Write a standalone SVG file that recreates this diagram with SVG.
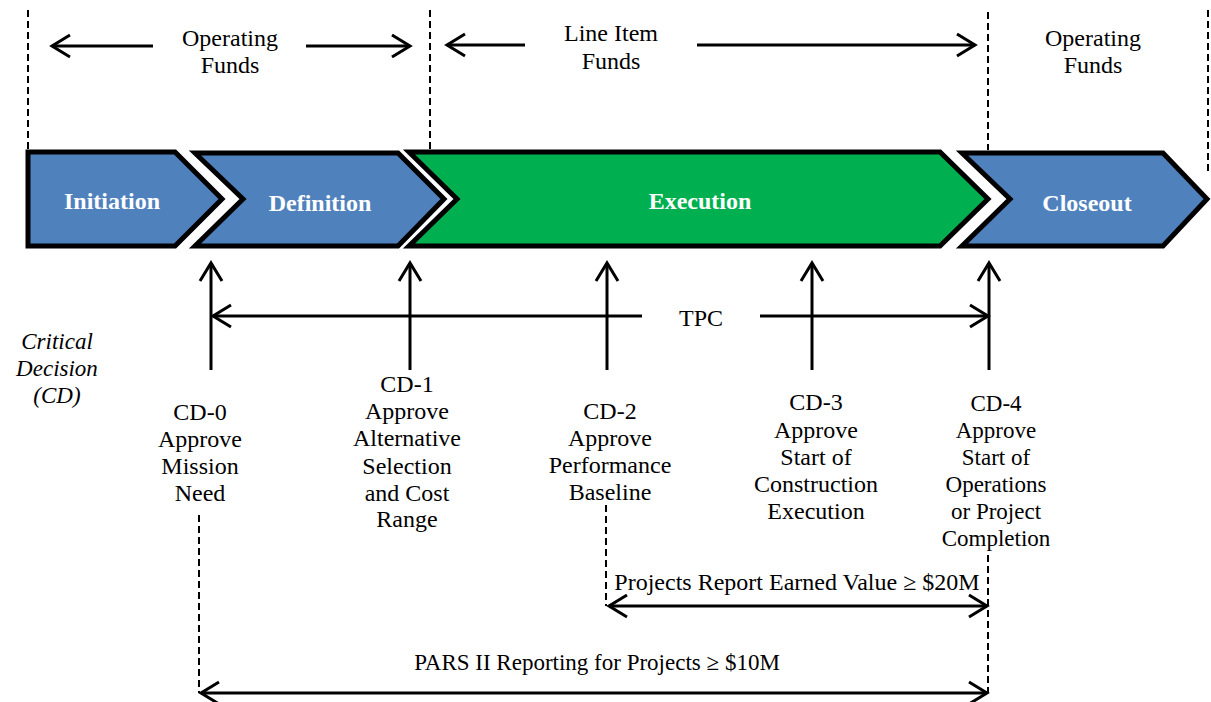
<svg xmlns="http://www.w3.org/2000/svg" width="1211" height="702" viewBox="0 0 1211 702">
<style>
.t{font-family:'Liberation Serif','Times New Roman',serif;font-size:24px;fill:#000;text-anchor:middle}
.s23{font-size:23px}
.it{font-style:italic;font-size:23px}
.ph{font-family:'Liberation Serif','Times New Roman',serif;font-size:24px;font-weight:bold;fill:#fff;text-anchor:middle}
.chev{stroke:#000;stroke-width:5;stroke-linejoin:miter}
.blue{fill:#4F81BD}
.green{fill:#00B050}
.dash{stroke:#000;stroke-width:2;stroke-dasharray:7,4;fill:none}
.ar{stroke:#000;stroke-width:3;fill:none}
</style>
<defs>
<marker id="ah" markerUnits="userSpaceOnUse" markerWidth="24" markerHeight="24" refX="20" refY="12" orient="auto-start-reverse" overflow="visible">
<path d="M2,1 L20,12 L2,23" fill="none" stroke="#000" stroke-width="3"/>
</marker>
</defs>
<rect width="1211" height="702" fill="#fff"/>
<g id="phase-initiation">
<path class="chev blue" d="M28,152 L175,152 L222,199 L175,246 L28,246 Z"/>
<text class="ph" x="112" y="209">Initiation</text>
</g>
<g id="phase-definition">
<path class="chev blue" d="M195,153 L398,153 L444,199 L398,246 L195,246 L243,199 Z"/>
<text class="ph" x="320" y="211">Definition</text>
</g>
<g id="phase-execution">
<path class="chev green" d="M409,152 L940,152 L988,199 L940,246 L409,246 L457,199 Z"/>
<text class="ph" x="700" y="209">Execution</text>
</g>
<g id="phase-closeout">
<path class="chev blue" d="M962,153 L1163,153 L1207,199 L1163,246 L962,246 L1010,199 Z"/>
<text class="ph" x="1087" y="211">Closeout</text>
</g>
<g id="funds-labels">
<text class="t" x="230" y="46">Operating</text>
<text class="t" x="230" y="73">Funds</text>
<text class="t" x="611" y="41">Line Item</text>
<text class="t" x="611" y="69">Funds</text>
<text class="t" x="1093" y="46">Operating</text>
<text class="t" x="1093" y="73">Funds</text>
</g>
<g id="critical-decision">
<text class="t it" x="57" y="349">Critical</text>
<text class="t it" x="57" y="376">Decision</text>
<text class="t it" x="57" y="403">(CD)</text>
</g>
<g id="cd0">
<text class="t" x="200" y="420">CD-0</text>
<text class="t" x="200" y="447">Approve</text>
<text class="t" x="200" y="474">Mission</text>
<text class="t" x="200" y="501">Need</text>
</g>
<g id="cd1">
<text class="t" x="407" y="392">CD-1</text>
<text class="t" x="407" y="419">Approve</text>
<text class="t" x="407" y="446">Alternative</text>
<text class="t" x="407" y="474">Selection</text>
<text class="t" x="407" y="501">and Cost</text>
<text class="t" x="407" y="527">Range</text>
</g>
<g id="cd2">
<text class="t" x="610" y="419">CD-2</text>
<text class="t" x="610" y="446">Approve</text>
<text class="t" x="610" y="473">Performance</text>
<text class="t" x="610" y="500">Baseline</text>
</g>
<g id="cd3">
<text class="t" x="816" y="410">CD-3</text>
<text class="t" x="816" y="438">Approve</text>
<text class="t" x="816" y="465">Start of</text>
<text class="t" x="816" y="492">Construction</text>
<text class="t" x="816" y="519">Execution</text>
</g>
<g id="cd4">
<text class="t s23" x="996" y="411">CD-4</text>
<text class="t s23" x="996" y="438">Approve</text>
<text class="t s23" x="996" y="465">Start of</text>
<text class="t s23" x="996" y="492">Operations</text>
<text class="t s23" x="996" y="519">or Project</text>
<text class="t s23" x="996" y="546">Completion</text>
</g>
<g id="range-labels">
<text class="t" x="701" y="326">TPC</text>
<text class="t" x="797" y="590">Projects Report Earned Value ≥ $20M</text>
<text class="t s23" x="597" y="670">PARS II Reporting for Projects ≥ $10M</text>
</g>
<g id="connectors">
<line class="dash" x1="28" y1="10" x2="28" y2="150"/>
<line class="dash" x1="430" y1="10" x2="430" y2="150"/>
<line class="dash" x1="988" y1="12" x2="988" y2="150"/>
<line class="dash" x1="1208" y1="10" x2="1208" y2="172"/>
<line class="dash" x1="199" y1="515" x2="199" y2="693"/>
<line class="dash" x1="606" y1="505" x2="606" y2="606"/>
<line class="dash" x1="988" y1="555" x2="988" y2="693"/>
<line class="ar" x1="153" y1="46" x2="52" y2="46" marker-end="url(#ah)"/>
<line class="ar" x1="306" y1="46" x2="410" y2="46" marker-end="url(#ah)"/>
<line class="ar" x1="525" y1="45" x2="447" y2="45" marker-end="url(#ah)"/>
<line class="ar" x1="697" y1="45" x2="975" y2="45" marker-end="url(#ah)"/>
<line class="ar" x1="211" y1="370" x2="211" y2="263" marker-end="url(#ah)"/>
<line class="ar" x1="410" y1="370" x2="410" y2="263" marker-end="url(#ah)"/>
<line class="ar" x1="607" y1="370" x2="607" y2="263" marker-end="url(#ah)"/>
<line class="ar" x1="812" y1="370" x2="812" y2="263" marker-end="url(#ah)"/>
<line class="ar" x1="989" y1="370" x2="989" y2="263" marker-end="url(#ah)"/>
<line class="ar" x1="642" y1="316" x2="213" y2="316" marker-end="url(#ah)"/>
<line class="ar" x1="760" y1="316" x2="988" y2="316" marker-end="url(#ah)"/>
<line class="ar" x1="609" y1="606" x2="987" y2="606" marker-start="url(#ah)" marker-end="url(#ah)"/>
<line class="ar" x1="201" y1="693" x2="987" y2="693" marker-start="url(#ah)" marker-end="url(#ah)"/>
</g>
</svg>
